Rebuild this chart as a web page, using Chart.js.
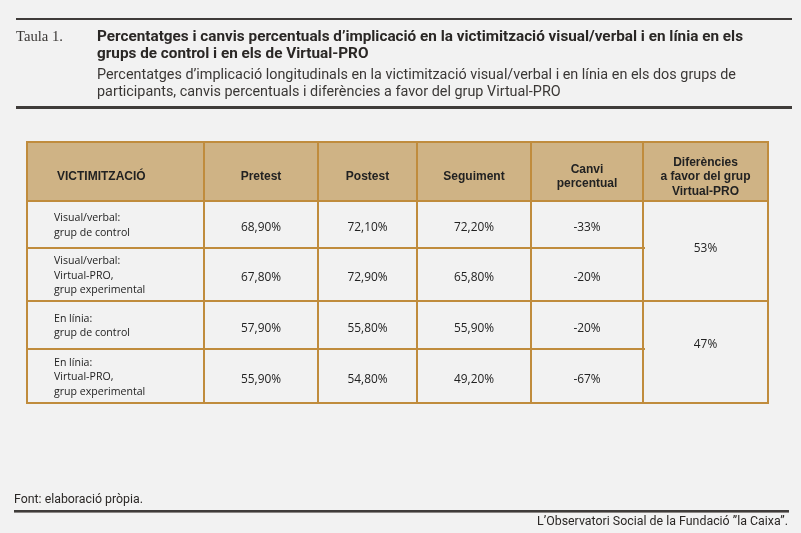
<!DOCTYPE html>
<html>
<head>
<meta charset="utf-8">
<script src="https://cdn.jsdelivr.net/npm/chart.js@4.4.0/dist/chart.umd.min.js"></script>
<style>
html,body{margin:0;padding:0;background:#f2f2f2;}
canvas{display:block;}
</style>
</head>
<body>
<canvas id="c" width="801" height="533"></canvas>
<script>
// ---------- DATA ----------
const tableLabel = "Taula 1.";
const titleLines = ["Percentatges i canvis percentuals d\u2019implicació en la victimització visual/verbal i en línia en els",
                    "grups de control i en els de Virtual-PRO"];
const subtitleLines = ["Percentatges d\u2019implicació longitudinals en la victimització visual/verbal i en línia en els dos grups de",
                       "participants, canvis percentuals i diferències a favor del grup Virtual-PRO"];
const sourceText = "Font: elaboració pròpia.";
const creditText = "L\u2019Observatori Social de la Fundació \u201Dla Caixa\u201D.";

const headers = [["VICTIMITZACIÓ"], ["Pretest"], ["Postest"], ["Seguiment"], ["Canvi", "percentual"],
                 ["Diferències", "a favor del grup", "Virtual-PRO"]];
const categories = [["Visual/verbal:", "grup de control"],
                    ["Visual/verbal:", "Virtual-PRO,", "grup experimental"],
                    ["En línia:", "grup de control"],
                    ["En línia:", "Virtual-PRO,", "grup experimental"]];
const pretest   = [68.9, 67.8, 57.9, 55.9];
const postest   = [72.1, 72.9, 55.8, 54.8];
const seguiment = [72.2, 65.8, 55.9, 49.2];
const canvi     = [-33, -20, -20, -67];
const diferencies = [53, 47];   // merged: rows 1-2 and rows 3-4

// ---------- LAYOUT (table units = px inside table) ----------
const colEdges = [0, 177, 291, 390, 504, 616, 741];
const rowEdges = [0, 59, 106, 159, 207, 261];
const difY = [105, 201];
const labelIndent = 27;

const C = {
  bg: '#f2f2f2', head: '#cfb385', border: '#c08c3d', text: '#222222', rule: '#3f3c3a'
};

const fmtPct = v => v.toFixed(2).replace('.', ',') + '%';
const fmtInt = v => v + '%';

function colCenter(i) { return (colEdges[i] + colEdges[i + 1]) / 2; }
function rowCenter(r) { return (rowEdges[r + 1] + rowEdges[r + 2]) / 2; }

function pts(values, col) {
  return values.map((v, r) => ({ x: colCenter(col), y: rowCenter(r), v }));
}

const datasets = [
  { label: 'Pretest', data: pts(pretest, 1), fmt: fmtPct },
  { label: 'Postest', data: pts(postest, 2), fmt: fmtPct },
  { label: 'Seguiment', data: pts(seguiment, 3), fmt: fmtPct },
  { label: 'Canvi', data: pts(canvi, 4), fmt: fmtInt },
  { label: 'Diferencies', data: diferencies.map((v, k) => ({ x: colCenter(5), y: difY[k], v })), fmt: fmtInt, noShift: true }
].map(d => Object.assign(d, { pointRadius: 0, pointHoverRadius: 0, showLine: false }));

function fitText(ctx, text, x, y, scale) {
  ctx.save();
  ctx.translate(x, y);
  ctx.scale(scale, 1);
  ctx.fillText(text, 0, 0);
  ctx.restore();
}
function scaleFor(ctx, text, target) {
  return target / ctx.measureText(text).width;
}

const tablePlugin = {
  id: 'tablePlugin',
  beforeDraw(chart) {
    const ctx = chart.ctx;
    const xs = chart.scales.x, ys = chart.scales.y;
    const X = v => xs.getPixelForValue(v);
    const Y = v => ys.getPixelForValue(v);
    ctx.save();
    ctx.fillStyle = C.bg;
    ctx.fillRect(0, 0, chart.width, chart.height);

    // ---- title block ----
    ctx.fillStyle = C.rule;
    ctx.fillRect(16, 18, 776, 2);
    ctx.fillRect(16, 106, 776, 3);
    ctx.fillStyle = '#3a3735';
    ctx.textBaseline = 'alphabetic';
    ctx.textAlign = 'left';
    ctx.font = '15px "Liberation Serif"';
    fitText(ctx, tableLabel, 16, 41, scaleFor(ctx, tableLabel, 47));
    ctx.fillStyle = '#2a2725';
    ctx.font = 'bold 14.5px Roboto';
    const ts = scaleFor(ctx, titleLines[0], 646);
    fitText(ctx, titleLines[0], 97, 41, ts);
    fitText(ctx, titleLines[1], 97, 58, ts);
    ctx.fillStyle = '#3a3735';
    ctx.font = '14px Roboto';
    const ss = scaleFor(ctx, subtitleLines[0], 639);
    fitText(ctx, subtitleLines[0], 97, 79, ss);
    fitText(ctx, subtitleLines[1], 97, 96, ss);

    // ---- footer ----
    ctx.font = '12px Roboto';
    ctx.fillStyle = '#2a2725';
    fitText(ctx, sourceText, 14, 503, scaleFor(ctx, sourceText, 129));
    ctx.fillStyle = C.rule;
    ctx.fillRect(14, 510, 775, 2);
    ctx.fillStyle = '#8a8684';
    ctx.fillRect(14, 512, 775, 1);
    ctx.fillStyle = '#2a2725';
    ctx.font = '12px Roboto';
    fitText(ctx, creditText, 537, 525, scaleFor(ctx, creditText, 251));

    // ---- table fills ----
    ctx.fillStyle = C.head;
    ctx.fillRect(X(0), Y(0), X(741) - X(0), Y(rowEdges[1]) - Y(0));

    // ---- grid lines ----
    ctx.strokeStyle = C.border;
    ctx.lineWidth = 2;
    ctx.beginPath();
    colEdges.forEach(c => { ctx.moveTo(X(c), Y(0)); ctx.lineTo(X(c), Y(261)); });
    [0, rowEdges[1], rowEdges[3], 261].forEach(r => { ctx.moveTo(X(0) - 1, Y(r)); ctx.lineTo(X(741) + 1, Y(r)); });
    [rowEdges[2], rowEdges[4]].forEach(r => { ctx.moveTo(X(0), Y(r)); ctx.lineTo(X(colEdges[5]) + 2, Y(r)); });
    ctx.stroke();

    // ---- headers ----
    ctx.fillStyle = C.text;
    ctx.font = 'bold 12px "Liberation Sans"';
    const hc = (Y(0) + Y(rowEdges[1])) / 2 + 4.5;
    headers.forEach((lines, i) => {
      const lh = 14.5;
      const x = i === 0 ? X(30) : X(colCenter(i));
      ctx.textAlign = i === 0 ? 'left' : 'center';
      lines.forEach((t, k) => {
        const y = hc + (k - (lines.length - 1) / 2) * lh + 4;
        ctx.fillText(t, x, y);
      });
    });

    // ---- row labels ----
    ctx.textAlign = 'left';
    ctx.font = '11.5px "Open Sans"';
    categories.forEach((lines, r) => {
      const cy = Y(rowCenter(r));
      const lh = 14.5;
      lines.forEach((t, k) => {
        const y = cy + (k - (lines.length - 1) / 2) * lh + 4;
        fitText(ctx, t, X(labelIndent), y, 0.92);
      });
    });
    ctx.restore();
  },
  afterDatasetsDraw(chart) {
    const ctx = chart.ctx;
    ctx.save();
    ctx.fillStyle = C.text;
    ctx.font = '12.5px "Open Sans"';
    ctx.textAlign = 'center';
    ctx.textBaseline = 'alphabetic';
    chart.data.datasets.forEach((ds, i) => {
      const meta = chart.getDatasetMeta(i);
      meta.data.forEach((el, j) => {
        const t = ds.fmt(ds.data[j].v);
        const dy = ds.noShift ? 4.5 : 6.5;
        ctx.save();
        ctx.translate(el.x, el.y + dy);
        ctx.scale(0.95, 1);
        ctx.fillText(t, 0, 0);
        ctx.restore();
      });
    });
    ctx.restore();
  }
};

new Chart(document.getElementById('c'), {
  type: 'scatter',
  data: { datasets },
  options: {
    responsive: false,
    animation: false,
    devicePixelRatio: 1,
    layout: { padding: { left: 27, top: 142, right: 33, bottom: 130 } },
    scales: {
      x: { type: 'linear', min: 0, max: 741, display: false },
      y: { type: 'linear', min: 0, max: 261, reverse: true, display: false }
    },
    plugins: { legend: { display: false }, tooltip: { enabled: false }, title: { display: false } },
    events: []
  },
  plugins: [tablePlugin]
});
</script>
</body>
</html>
